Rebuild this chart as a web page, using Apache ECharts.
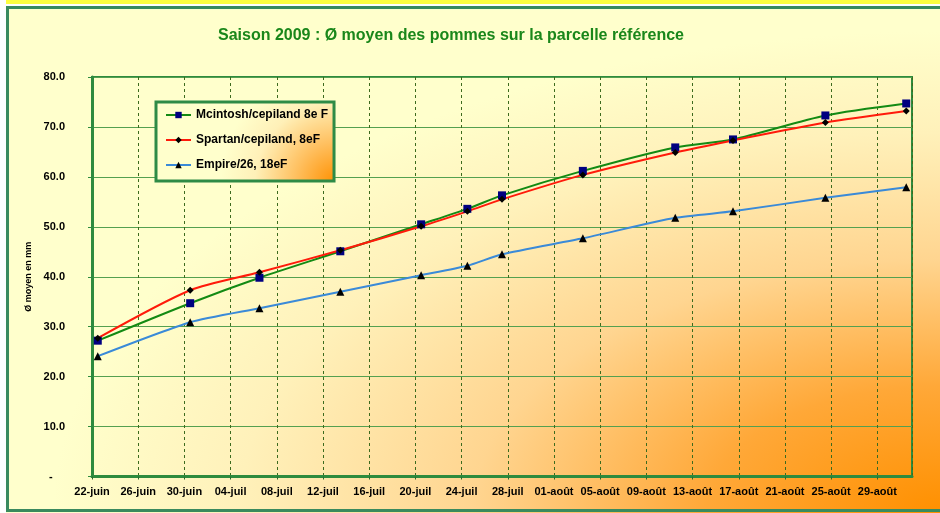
<!DOCTYPE html>
<html>
<head>
<meta charset="utf-8">
<script src="https://cdn.jsdelivr.net/npm/echarts@6/dist/echarts.min.js"></script>
<style>
html,body{margin:0;padding:0;background:#fff;}
#c{width:940px;height:513px;}
</style>
</head>
<body>
<div id="c"></div>
<script>
// ---- data ----
const dates = ['2009-06-22','2009-06-30','2009-07-06','2009-07-13','2009-07-20','2009-07-24','2009-07-27','2009-08-03','2009-08-11','2009-08-16','2009-08-24','2009-08-31'];
const mcintosh = [27.2, 34.7, 39.8, 45.1, 50.5, 53.6, 56.3, 61.2, 65.9, 67.5, 72.3, 74.7];
const spartan  = [27.7, 37.3, 40.9, 45.3, 50.1, 53.1, 55.5, 60.4, 64.9, 67.3, 70.9, 73.2];
const empire   = [24.1, 30.9, 33.7, 37.0, 40.3, 42.2, 44.5, 47.7, 51.8, 53.1, 55.8, 57.9];
const seriesNames = ['Mcintosh/cepiland 8e F', 'Spartan/cepiland, 8eF', 'Empire/26, 18eF'];
const axisStart = '2009-06-22';
const axisEnd = '2009-09-01';
const monthNames = ['janv','févr','mars','avr','mai','juin','juil','août','sept','oct','nov','déc'];
const titleText = 'Saison 2009 : Ø moyen des pommes sur la parcelle référence';
const yName = 'Ø moyen en mm';

// ---- helpers ----
const DAY = 86400000;
function utc(s){ const p = s.split('-').map(Number); return Date.UTC(p[0], p[1]-1, p[2]); }
const t0 = utc(axisStart);
const spanDays = (utc(axisEnd) - t0) / DAY;
// Excel date axis centres each point within its day
function dayPos(s){ return (utc(s) - t0) / DAY + 0.5; }
function dayLabel(v){
  const d = new Date(t0 + v * DAY);
  const dd = String(d.getUTCDate()).padStart(2,'0');
  return dd + '-' + monthNames[d.getUTCMonth()];
}
function pts(arr){ return dates.map((d,i)=>[dayPos(d), arr[i]]); }

const FONT = '"Liberation Sans", Arial, sans-serif';
const bgW = 934, bgH = 507, sx = bgW / bgH;

const chart = echarts.init(document.getElementById('c'), null, {renderer:'canvas'});
chart.setOption({
  backgroundColor: '#ffffff',
  animation: false,
  graphic: [
    { type:'rect', z:-10, x:6, y:6, scaleX:sx,
      shape:{x:0,y:0,width:bgW/sx,height:bgH},
      style:{ fill:{ type:'radial', x:1, y:1, r:1, colorStops:[
        {offset:0, color:'#ff9000'},
        {offset:0.25, color:'#ffa838'},
        {offset:0.5, color:'#ffd590'},
        {offset:0.75, color:'#fff1ba'},
        {offset:0.95, color:'#ffffcc'},
        {offset:1, color:'#ffffcc'}
      ]}}, silent:true },
    { type:'rect', z:-9, shape:{x:6,y:0,width:934,height:4}, style:{fill:'#ffff40'}, silent:true },
    { type:'rect', z:-8, shape:{x:7.5,y:7.5,width:940,height:503}, style:{fill:null, stroke:'#3a8a5e', lineWidth:3}, silent:true }
  ],
  title: {
    text: titleText,
    left: 213, top: 23,
    textStyle: { fontFamily: FONT, fontSize: 16, fontWeight: 'bold', color: '#1a871a' }
  },
  legend: {
    orient: 'vertical',
    left: 156, top: 102,
    padding: [7, 6, 10, 9],
    itemGap: 13,
    itemWidth: 25, itemHeight: 8,
    textStyle: { fontFamily: FONT, fontSize: 12, fontWeight: 'bold', color: '#000' },
    borderColor: '#2e8b46', borderWidth: 3,
    backgroundColor: { type:'radial', x:1, y:1, r:1.4, colorStops:[
      {offset:0, color:'#ff9000'},
      {offset:0.35, color:'#ffc060'},
      {offset:0.7, color:'#fff0b8'},
      {offset:1, color:'#ffffcc'}
    ]},
    data: seriesNames
  },
  grid: {
    left: 92, top: 77, right: 28, bottom: 36.5,
    show: true, borderColor: '#2e8b3e', borderWidth: 2, backgroundColor: 'transparent'
  },
  xAxis: {
    type: 'value', min: 0, max: spanDays, interval: 4,
    axisLine: { show: true, onZero: false, lineStyle: { color: '#2e8b3e', width: 3 } },
    axisTick: { show: true, length: 3, lineStyle: { color: '#2e6b2e' } },
    axisLabel: { formatter: dayLabel, showMaxLabel: false, margin: 10,
      fontFamily: FONT, fontSize: 11, fontWeight: 'bold', color: '#000' },
    splitLine: { show: true, lineStyle: { color: '#3d6b1e', type: [3, 3], width: 1 } }
  },
  yAxis: {
    type: 'value', min: 0, max: 80, interval: 10,
    name: yName, nameLocation: 'middle', nameGap: 59, nameRotate: 90,
    nameTextStyle: { fontFamily: FONT, fontSize: 9, fontWeight: 'bold', color: '#000' },
    axisLine: { show: true, lineStyle: { color: '#2e8b3e', width: 3 } },
    axisTick: { show: true, length: 4, lineStyle: { color: '#2e8b3e' } },
    axisLabel: { margin: 27, formatter: v => v === 0 ? '-    ' : v.toFixed(1),
      fontFamily: FONT, fontSize: 11, fontWeight: 'bold', color: '#000' },
    splitLine: { show: true, lineStyle: { color: '#55a050', width: 1 } }
  },
  series: [
    { name: seriesNames[0], type: 'line', data: pts(mcintosh), smooth: 0.25,
      symbol: 'rect', symbolSize: 8, showAllSymbol: true,
      lineStyle: { color: '#138a13', width: 2 },
      itemStyle: { color: '#000080', borderWidth: 0 } },
    { name: seriesNames[1], type: 'line', data: pts(spartan), smooth: 0.25,
      symbol: 'diamond', symbolSize: 7, showAllSymbol: true,
      lineStyle: { color: '#ff1a0a', width: 2 },
      itemStyle: { color: '#000000', borderWidth: 0 } },
    { name: seriesNames[2], type: 'line', data: pts(empire), smooth: 0.2,
      symbol: 'triangle', symbolSize: 8, showAllSymbol: true,
      lineStyle: { color: '#3a8ad8', width: 2 },
      itemStyle: { color: '#000000', borderWidth: 0 } }
  ]
});
</script>
</body>
</html>
